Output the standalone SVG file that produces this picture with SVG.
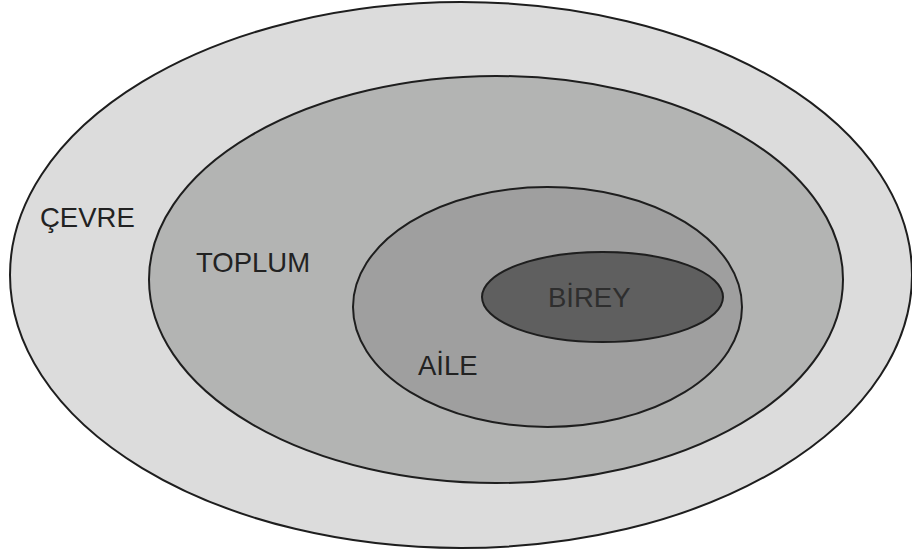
<svg xmlns="http://www.w3.org/2000/svg" width="912" height="550" viewBox="0 0 912 550">
<style>
.ring{stroke:#1e1e1e;stroke-width:2}
.lbl{font-family:"Liberation Sans",Arial,sans-serif;font-size:27.5px;fill:#222}
</style>
<rect width="912" height="550" fill="#ffffff"/>
<g id="cevre">
<ellipse class="ring" cx="461" cy="275" rx="451" ry="273" fill="#dcdcdc"/>
<text class="lbl" x="40" y="227">ÇEVRE</text>
</g>
<g id="toplum">
<ellipse class="ring" cx="496" cy="279.5" rx="347" ry="203.5" fill="#b3b4b3"/>
<text class="lbl" x="196" y="272">TOPLUM</text>
</g>
<g id="aile">
<ellipse class="ring" cx="547.5" cy="307" rx="194.5" ry="120" fill="#9f9f9f"/>
<text class="lbl" x="418" y="375">AİLE</text>
</g>
<g id="birey">
<ellipse class="ring" cx="602.5" cy="297" rx="120.5" ry="45" fill="#5f5f5f"/>
<text class="lbl" x="548" y="307" style="fill:#2e2e2e">BİREY</text>
</g>
<g id="connectors"/>
</svg>
